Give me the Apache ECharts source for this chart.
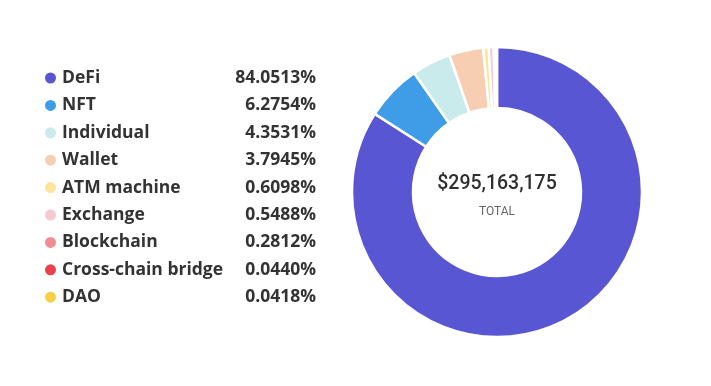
<!DOCTYPE html>
<html>
<head>
<meta charset="utf-8">
<script src="https://cdn.jsdelivr.net/npm/echarts@6/dist/echarts.min.js"></script>
<style>html,body{margin:0;padding:0;background:#fff;}#c{width:711px;height:386px;}</style>
</head>
<body>
<div id="c"></div>
<script>
const categories = ["DeFi","NFT","Individual","Wallet","ATM machine","Exchange","Blockchain","Cross-chain bridge","DAO"];
const percents = [84.0513, 6.2754, 4.3531, 3.7945, 0.6098, 0.5488, 0.2812, 0.0440, 0.0418];
const colors = ["#5956d3","#3f9de8","#c9ebec","#f7ceb1","#fce49c","#f8c9d1","#ef8e92","#e8424e","#f7cf45"];
const totalLabel = "$295,163,175";

const chart = echarts.init(document.getElementById('c'));
const data = categories.map((n,i)=>({name:n, value:percents[i], itemStyle:{color:colors[i]}}));
const pctMap = {};
categories.forEach((n,i)=>{pctMap[n]=percents[i].toFixed(4)+'%';});
const ff = '"Open Sans","Noto Sans",sans-serif';
const fs = 17.5;

chart.setOption({
  animation:false,
  legend:{
    orient:'vertical', left:38, top:63,
    icon:'circle', itemWidth:13, itemHeight:13, itemGap:7.4,
    selectedMode:false,
    data:categories,
    formatter: n => `{n|${n}}{v|${pctMap[n]}}`,
    textStyle:{
      color:'#333', fontSize:fs, fontWeight:'bold', fontFamily:ff,
      lineHeight:20,
      rich:{
        n:{width:168, fontSize:fs, fontWeight:'bold', color:'#333', fontFamily:ff, lineHeight:20},
        v:{width:86, align:'right', fontSize:fs, fontWeight:'bold', color:'#333', fontFamily:ff, lineHeight:20}
      }
    }
  },
  graphic:[
    {type:'text', x:497, y:184, style:{text:totalLabel, fill:'#2f2f2f', fontSize:19.5, fontWeight:500, fontFamily:'Roboto, "Liberation Sans", sans-serif', align:'center', verticalAlign:'middle'}, z:10},
    {type:'text', x:497, y:212, style:{text:'TOTAL', fill:'#666', fontSize:12, fontFamily:'Roboto, "Liberation Sans", sans-serif', align:'center', verticalAlign:'middle'}, z:10}
  ],
  series:[{
    type:'pie',
    center:[497,192],
    radius:[84,145],
    startAngle:90,
    clockwise:true,
    label:{show:false},
    labelLine:{show:false},
    itemStyle:{borderColor:'#fff', borderWidth:2.5},
    data:data
  }]
});
</script>
</body>
</html>
